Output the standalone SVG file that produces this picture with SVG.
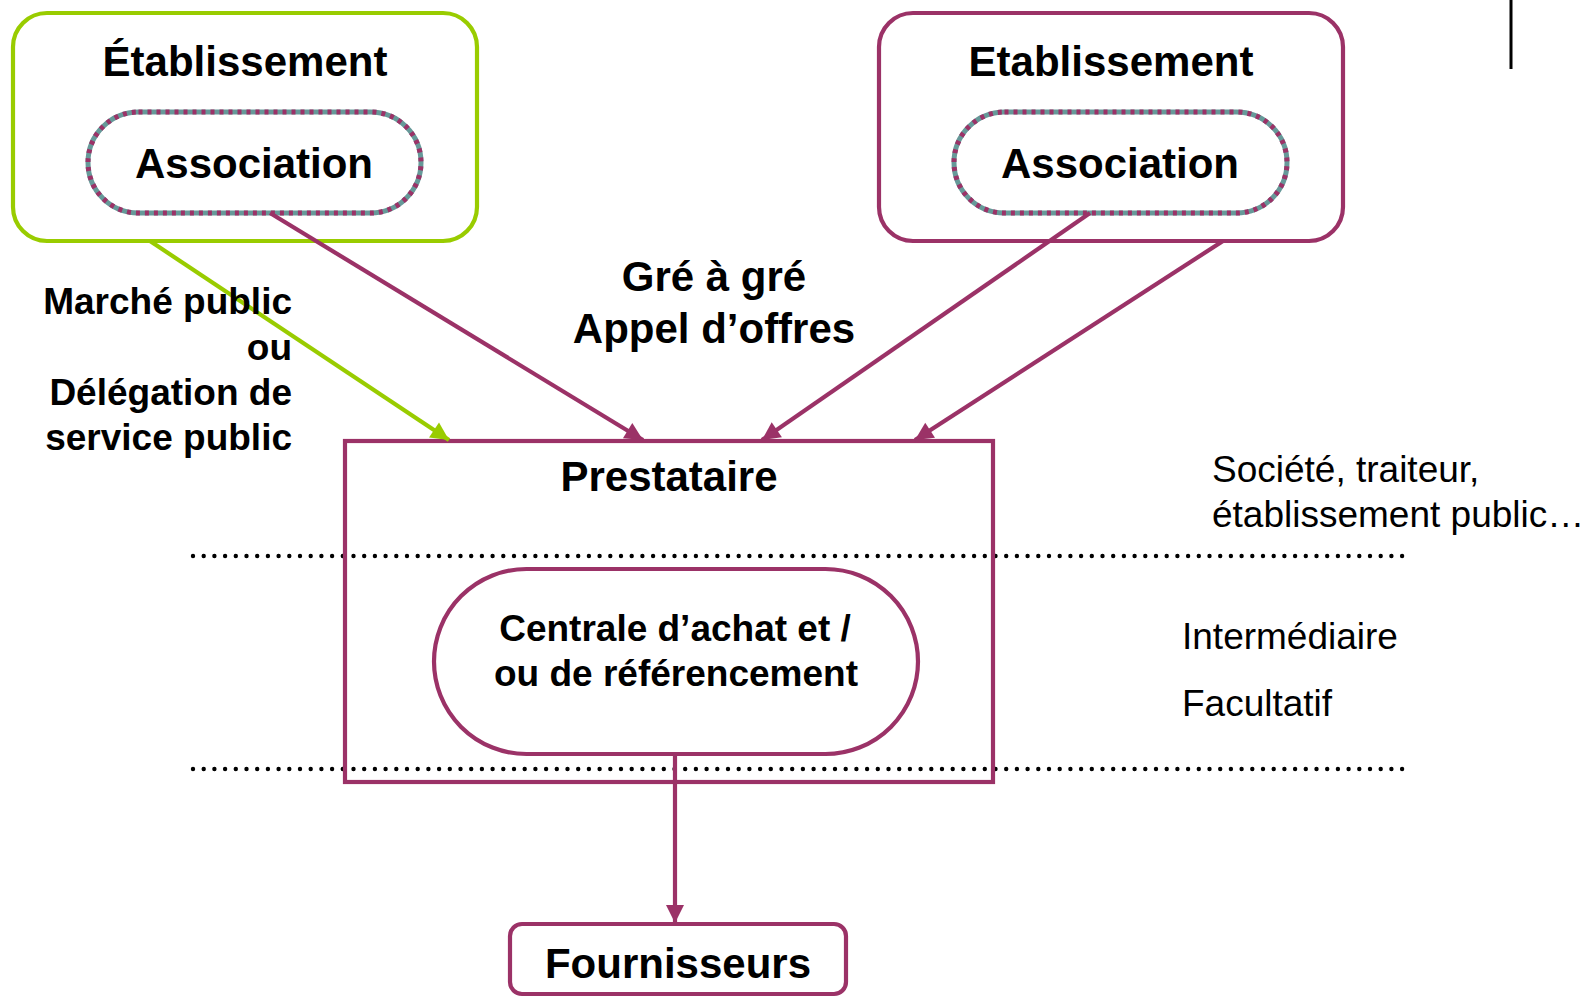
<svg xmlns="http://www.w3.org/2000/svg" width="1588" height="997" viewBox="0 0 1588 997">
<style>
.b{font-family:"Liberation Sans",Arial,sans-serif;font-weight:bold;fill:#000}
.r{font-family:"Liberation Sans",Arial,sans-serif;fill:#000}
.mg{fill:none;stroke:#9B3267;stroke-width:4.2}
.gr{fill:none;stroke:#99CC00;stroke-width:4.2}
.pillA{fill:#fff;stroke:#669999;stroke-width:5}
.pillB{fill:none;stroke:#9B3267;stroke-width:5;stroke-dasharray:4 5}
.dot{stroke:#000;stroke-width:4.4;stroke-linecap:round;stroke-dasharray:0 10.7}
.cm{stroke:#9B3267;stroke-width:4.2;fill:none}
.cg{stroke:#99CC00;stroke-width:4.2;fill:none}
</style>
<defs>
<marker id="am" markerUnits="userSpaceOnUse" markerWidth="22" markerHeight="22" viewBox="0 0 22 22" refX="20" refY="11" orient="auto"><path d="M2,2 L20,11 L2,20 Z" fill="#9B3267"/></marker>
<marker id="ag" markerUnits="userSpaceOnUse" markerWidth="22" markerHeight="22" viewBox="0 0 22 22" refX="20" refY="11" orient="auto"><path d="M2,2 L20,11 L2,20 Z" fill="#99CC00"/></marker>
</defs>
<rect width="1588" height="997" fill="#fff"/>
<line x1="1511" y1="0" x2="1511" y2="69" stroke="#000" stroke-width="3"/>
<g id="dots">
<line class="dot" x1="193" y1="556" x2="1403" y2="556"/>
<line class="dot" x1="193" y1="769" x2="1403" y2="769"/>
</g>
<g id="etab-left">
<rect class="gr" x="13" y="13" width="464" height="228" rx="34"/>
<text class="b" x="245" y="76" font-size="42" text-anchor="middle">Établissement</text>
</g>
<g id="assoc-left">
<rect class="pillA" x="88" y="112" width="333" height="101" rx="50.5"/>
<rect class="pillB" x="88" y="112" width="333" height="101" rx="50.5"/>
<text class="b" x="254" y="178" font-size="42" text-anchor="middle">Association</text>
</g>
<g id="etab-right">
<rect class="mg" x="879" y="13" width="464" height="228" rx="34"/>
<text class="b" x="1111" y="76" font-size="42" text-anchor="middle">Etablissement</text>
</g>
<g id="assoc-right">
<rect class="pillA" x="954" y="112" width="333" height="101" rx="50.5"/>
<rect class="pillB" x="954" y="112" width="333" height="101" rx="50.5"/>
<text class="b" x="1120" y="178" font-size="42" text-anchor="middle">Association</text>
</g>
<g id="prestataire">
<rect class="mg" x="345" y="441" width="648" height="341"/>
<text class="b" x="669" y="491" font-size="42" text-anchor="middle">Prestataire</text>
</g>
<g id="centrale">
<rect class="mg" x="434" y="569" width="484" height="185" rx="92.5" fill="#fff"/>
<text class="b" x="675" y="641" font-size="37" text-anchor="middle">Centrale d’achat et /</text>
<text class="b" x="676" y="686" font-size="37" text-anchor="middle">ou de référencement</text>
</g>
<g id="fournisseurs">
<rect class="mg" x="510" y="924" width="336" height="70" rx="12"/>
<text class="b" x="678" y="978" font-size="42" text-anchor="middle">Fournisseurs</text>
</g>
<g id="connectors">
<line class="cg" x1="150" y1="241" x2="449" y2="440" marker-end="url(#ag)"/>
<line class="cm" x1="270" y1="213" x2="643" y2="440" marker-end="url(#am)"/>
<line class="cm" x1="1090" y1="213" x2="762" y2="440" marker-end="url(#am)"/>
<line class="cm" x1="1223" y1="241" x2="915" y2="440" marker-end="url(#am)"/>
<line class="cm" x1="675" y1="754" x2="675" y2="923" marker-end="url(#am)"/>
</g>
<g id="labels">
<text class="b" font-size="37" text-anchor="end"><tspan x="292" y="314">Marché public</tspan><tspan x="292" y="360">ou</tspan><tspan x="292" y="405">Délégation de</tspan><tspan x="292" y="450">service public</tspan></text>
<text class="b" font-size="42" text-anchor="middle"><tspan x="714" y="291">Gré à gré</tspan><tspan x="714" y="343">Appel d’offres</tspan></text>
<text class="r" font-size="37"><tspan x="1212" y="482">Société, traiteur,</tspan><tspan x="1212" y="527">établissement public…</tspan></text>
<text class="r" font-size="37" x="1182" y="649">Intermédiaire</text>
<text class="r" font-size="37" x="1182" y="716">Facultatif</text>
</g>
</svg>
